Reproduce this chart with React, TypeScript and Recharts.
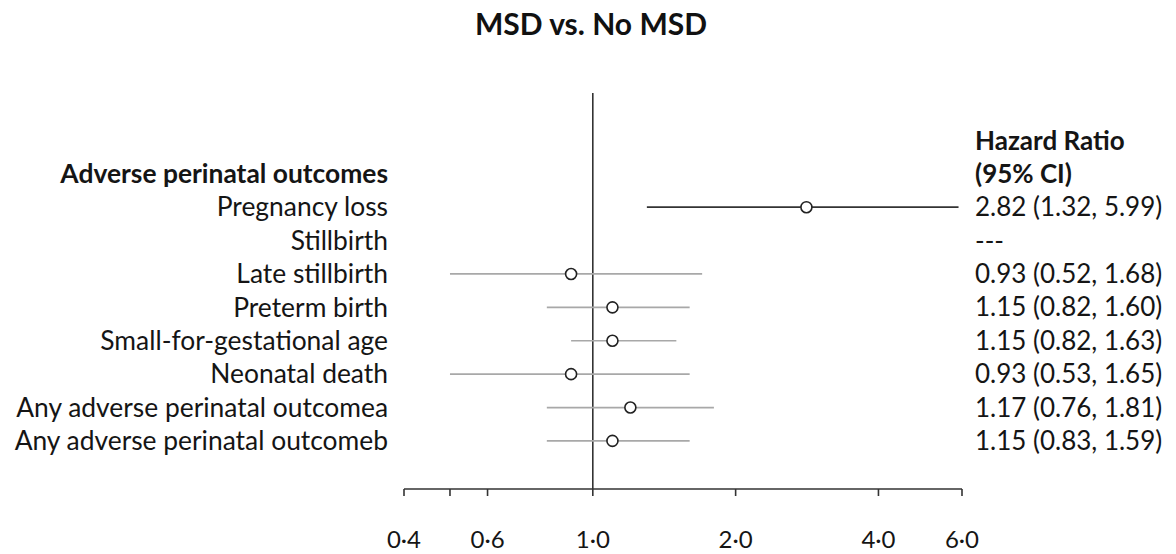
import React from "react";
import {
  ComposedChart,
  Scatter,
  XAxis,
  YAxis,
  ErrorBar,
  ReferenceLine,
} from "recharts";

const FONT = "Lato, 'Open Sans', sans-serif";
const TEXT = "#151515";

const title = "MSD vs. No MSD";
const leftHeader = "Adverse perinatal outcomes";
const rightHeader = ["Hazard Ratio", "(95% CI)"];

const outcomes = [
  "Pregnancy loss",
  "Stillbirth",
  "Late stillbirth",
  "Preterm birth",
  "Small-for-gestational age",
  "Neonatal death",
  "Any adverse perinatal outcomea",
  "Any adverse perinatal outcomeb",
];

const hrText = [
  "2.82 (1.32, 5.99)",
  "---",
  "0.93 (0.52, 1.68)",
  "1.15 (0.82, 1.60)",
  "1.15 (0.82, 1.63)",
  "0.93 (0.53, 1.65)",
  "1.17 (0.76, 1.81)",
  "1.15 (0.83, 1.59)",
];

// values as drawn by the markers (stillbirth has no estimate)
const hrPoint = [2.82, null, 0.9, 1.1, 1.1, 0.9, 1.2, 1.1];
const ciLow = [1.3, null, 0.5, 0.8, 0.9, 0.5, 0.8, 0.8];
const ciHigh = [5.9, null, 1.7, 1.6, 1.5, 1.6, 1.8, 1.6];

const xTicks = [0.4, 0.5, 0.6, 1, 2, 4, 6];
const leftTicks = [-1, 0, 1, 2, 3, 4, 5, 6, 7];
const rightTicks = [-2, -1, 0, 1, 2, 3, 4, 5, 6, 7];

const rows = outcomes
  .map((name, i) => ({
    name,
    row: i,
    hr: hrPoint[i],
    err:
      hrPoint[i] == null
        ? null
        : [hrPoint[i]! - ciLow[i]!, ciHigh[i]! - hrPoint[i]!],
  }))
  .filter((d) => d.hr != null);

const firstRow = rows.filter((d) => d.row === 0);
const otherRows = rows.filter((d) => d.row !== 0);

const fmtTick = (v: number) => (v === 0.5 ? "" : v.toFixed(1).replace(".", "\u00b7"));

const LeftTick = (props: any) => {
  const { x, y, payload } = props;
  const i = payload.value as number;
  const bold = i < 0;
  return (
    <text
      x={x}
      y={y}
      dy="0.35em"
      textAnchor="end"
      fontFamily={FONT}
      fontSize={26.4}
      fontWeight={bold ? 700 : 400}
      fill={TEXT}
    >
      {bold ? leftHeader : outcomes[i]}
    </text>
  );
};

const RightTick = (props: any) => {
  const { x, y, payload } = props;
  const i = payload.value as number;
  const bold = i < 0;
  return (
    <text
      x={x}
      y={y}
      dy="0.35em"
      textAnchor="start"
      fontFamily={FONT}
      fontSize={26}
      fontWeight={bold ? 700 : 400}
      fill={TEXT}
    >
      {bold ? rightHeader[i + 2] : hrText[i]}
    </text>
  );
};

const Dot = (props: any) => (
  <circle
    cx={props.cx}
    cy={props.cy}
    r={5.5}
    fill="#fff"
    stroke="#222"
    strokeWidth={1.6}
  />
);

export default function App() {
  return (
    <div
      style={{
        position: "absolute",
        left: 0,
        top: 0,
        width: 1176,
        height: 554,
        background: "#fff",
      }}
    >
      <div
        style={{
          position: "absolute",
          left: 0,
          width: 1182,
          top: 8,
          textAlign: "center",
          fontFamily: FONT,
          fontWeight: 700,
          fontSize: 30,
          lineHeight: "30px",
          color: "#111",
        }}
      >
        {title}
      </div>
      <ComposedChart
        width={1176}
        height={554}
        margin={{ top: 93, right: 0, bottom: 0, left: 0 }}
      >
        <XAxis
          type="number"
          dataKey="hr"
          scale="log"
          domain={[0.4, 6]}
          allowDataOverflow
          ticks={xTicks}
          tickFormatter={fmtTick}
          interval={0}
          height={65}
          tickSize={7}
          tickMargin={35}
          axisLine={{ stroke: "#333", strokeWidth: 1.6 }}
          tickLine={{ stroke: "#333", strokeWidth: 1.6 }}
          tick={{ fontFamily: FONT, fontSize: 24, fill: TEXT }}
        />
        <YAxis
          yAxisId="rows"
          type="number"
          dataKey="row"
          domain={[-3.42, 8.44]}
          allowDataOverflow
          reversed
          ticks={leftTicks}
          interval={0}
          width={404}
          tickSize={0}
          tickMargin={16}
          axisLine={false}
          tickLine={false}
          tick={LeftTick}
        />
        <YAxis
          yAxisId="hr"
          orientation="right"
          type="number"
          domain={[-3.42, 8.44]}
          allowDataOverflow
          reversed
          ticks={rightTicks}
          interval={0}
          width={214}
          tickSize={0}
          tickMargin={13}
          axisLine={false}
          tickLine={false}
          tick={RightTick}
        />
        <ReferenceLine
          x={1}
          yAxisId="rows"
          stroke="#333"
          strokeWidth={1.6}
        />
        <Scatter
          data={otherRows}
          yAxisId="rows"
          isAnimationActive={false}
          shape={Dot}
        >
          <ErrorBar
            dataKey="err"
            direction="x"
            width={0}
            stroke="#a8a8a8"
            strokeWidth={1.7}
          />
        </Scatter>
        <Scatter
          data={firstRow}
          yAxisId="rows"
          isAnimationActive={false}
          shape={Dot}
        >
          <ErrorBar
            dataKey="err"
            direction="x"
            width={0}
            stroke="#333"
            strokeWidth={1.8}
          />
        </Scatter>
        <Scatter
          data={rows}
          yAxisId="hr"
          isAnimationActive={false}
          shape={() => null}
        />
      </ComposedChart>
    </div>
  );
}
